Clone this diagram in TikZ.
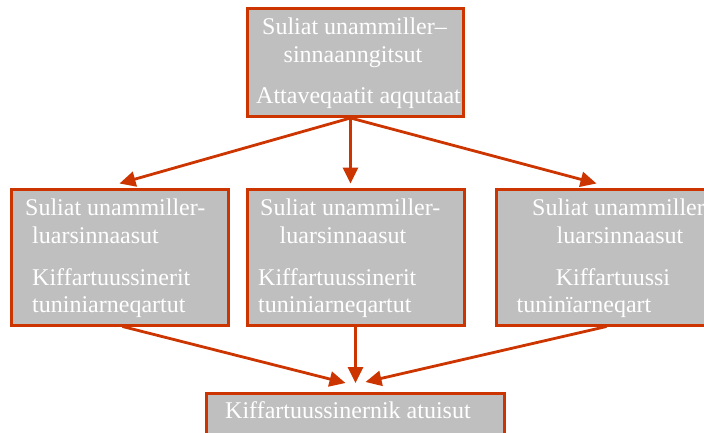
\documentclass[tikz,border=0pt]{standalone}
\usepackage{fontspec}
\setmainfont{Liberation Serif}
\usetikzlibrary{arrows.meta}
\definecolor{accent}{RGB}{204,53,0}
\definecolor{boxgray}{RGB}{191,191,191}
\tikzset{
  box/.style={draw=accent, line width=3pt, fill=boxgray, rectangle, inner sep=0pt},
  txt/.style={text=white, inner sep=0pt, font=\fontsize{24}{28}\selectfont},
  arr/.style={draw=accent, line width=2.8pt, -{Triangle[length=16pt,width=15pt]}}
}
\begin{document}
\begin{tikzpicture}[x=1pt,y=-1pt]
\useasboundingbox (0,0) rectangle (704,433);
\clip (0,0) rectangle (704,433);
\fill[white] (0,0) rectangle (704,433);
% boxes
\node[box, minimum width=216pt, minimum height=108pt] (top) at (355.5,62.5) {};
\node[box, minimum width=217pt, minimum height=136pt] (left) at (119.5,257) {};
\node[box, minimum width=217pt, minimum height=136pt] (mid) at (355.5,257) {};
\node[box, minimum width=217pt, minimum height=136pt] (right) at (604.5,257) {};
\node[box, minimum width=298pt, minimum height=60pt] (bot) at (355.5,423.5) {};
% texts
\node[txt, anchor=base] (t1) at (354.5,35) {Suliat unammiller–};
\node[txt, anchor=base] (t2) at (353,63) {sinnaanngitsut};
\node[txt, anchor=base] (t3) at (358.5,104) {Attaveqaatit aqqutaat};
\node[txt, anchor=base west] (l1) at (25,215) {Suliat unammiller-};
\node[txt, anchor=base west] (l2) at (32,243) {luarsinnaasut};
\node[txt, anchor=base west] (l3) at (32,285) {Kiffartuussinerit};
\node[txt, anchor=base west] (l4) at (32,312) {tuniniarneqartut};
\node[txt, anchor=base west] (m1) at (260,215) {Suliat unammiller-};
\node[txt, anchor=base] (m2) at (343,243) {luarsinnaasut};
\node[txt, anchor=base west] (m3) at (258,285) {Kiffartuussinerit};
\node[txt, anchor=base west] (m4) at (258,312) {tuniniarneqartut};
\node[txt, anchor=base west] (r1) at (532,215) {Suliat unammiller-};
\node[txt, anchor=base] (r2) at (620,243) {luarsinnaasut};
\node[txt, anchor=base] (r3) at (613,285) {Kiffartuussi};
\node[txt, anchor=base] (r4) at (584,312) {tuninïarneqart};
\node[txt, anchor=base west] (b1) at (225,418) {Kiffartuussinernik atuisut};
% arrows
\draw[arr] ([xshift=-5pt]top.south) -- ([yshift=4pt]left.north);
\draw[arr] ([xshift=-5pt]top.south) -- ([xshift=-5pt,yshift=4pt]mid.north);
\draw[arr] ([xshift=-5pt]top.south) -- ([xshift=-8pt,yshift=4pt]right.north);
\draw[arr] ([xshift=3pt]left.south) -- ([xshift=-10pt,yshift=9pt]bot.north);
\draw[arr] (mid.south) -- ([yshift=9pt]bot.north);
\draw[arr] ([xshift=2pt]right.south) -- ([xshift=10pt,yshift=10pt]bot.north);
\end{tikzpicture}
\end{document}
